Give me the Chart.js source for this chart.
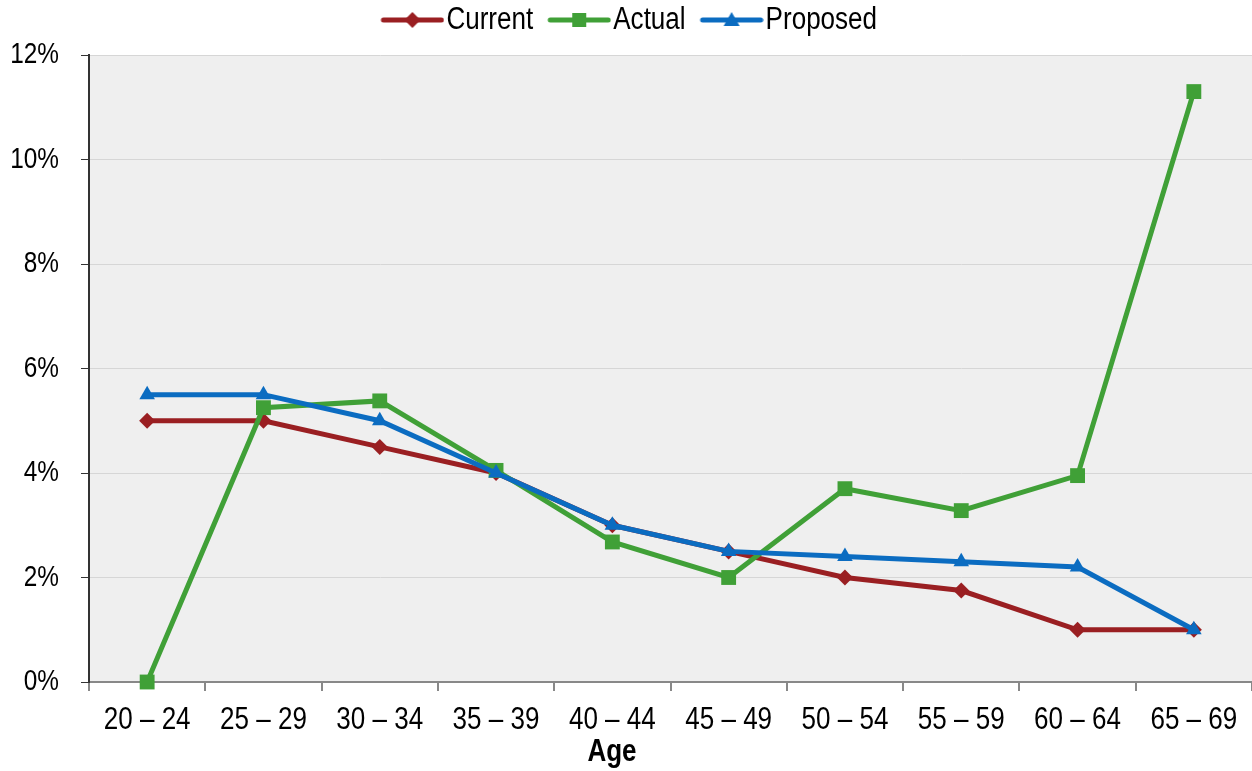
<!DOCTYPE html>
<html>
<head>
<meta charset="utf-8">
<script src="https://cdn.jsdelivr.net/npm/chart.js"></script>
<style>
	body { margin: 0; background: #fff; }
	#wrap { width: 1252px; height: 771px; position: relative; }
</style>
</head>
<body>
<div id="wrap"><canvas id="ageChart"></canvas></div>
<script>
// age bands on the x axis
var ageBands = ['20 – 24', '25 – 29', '30 – 34', '35 – 39', '40 – 44', '45 – 49', '50 – 54', '55 – 59', '60 – 64', '65 – 69'];
var xTitle = 'Age';

// rates in percent
var currentRates = [5.0, 5.0, 4.5, 4.0, 3.0, 2.5, 2.0, 1.75, 1.0, 1.0];
var actualRates = [0.0, 5.25, 5.38, 4.05, 2.68, 2.0, 3.7, 3.28, 3.95, 11.3];
var proposedRates = [5.5, 5.5, 5.0, 4.0, 3.0, 2.5, 2.4, 2.3, 2.2, 1.0];

var yTicks = [0, 2, 4, 6, 8, 10, 12];

// no Arial Narrow here, so squeeze Liberation Sans sideways on the canvas
var squeeze = 0.84;
var proto = CanvasRenderingContext2D.prototype;
var plainFillText = proto.fillText;
var plainMeasureText = proto.measureText;
proto.fillText = function (text, x, y) {
	this.save();
	this.translate(x, y);
	this.scale(squeeze, 1);
	plainFillText.call(this, text, 0, 0);
	this.restore();
};
proto.measureText = function (text) {
	var m = plainMeasureText.call(this, text);
	return {
		width: m.width * squeeze,
		actualBoundingBoxLeft: m.actualBoundingBoxLeft * squeeze,
		actualBoundingBoxRight: m.actualBoundingBoxRight * squeeze,
		actualBoundingBoxAscent: m.actualBoundingBoxAscent,
		actualBoundingBoxDescent: m.actualBoundingBoxDescent,
		fontBoundingBoxAscent: m.fontBoundingBoxAscent,
		fontBoundingBoxDescent: m.fontBoundingBoxDescent
	};
};

var fontFamily = '"Liberation Sans", Arial, sans-serif';
Chart.defaults.font.family = fontFamily;
Chart.defaults.color = '#000';

var red = '#9a1f22';
var green = '#40a037';
var blue = '#0b6cc1';

// line + marker picture for each legend entry (blank strip on the left)
function legendIcon(color, style) {
	var c = document.createElement('canvas');
	c.width = 83;
	c.height = 20;
	var g = c.getContext('2d');
	g.strokeStyle = color;
	g.fillStyle = color;
	g.lineWidth = 5;
	g.lineCap = 'round';
	g.beginPath();
	g.moveTo(22, 10);
	g.lineTo(80, 10);
	g.stroke();
	g.beginPath();
	if (style == 'rectRot') {
		g.moveTo(51, 2); g.lineTo(59, 10); g.lineTo(51, 18); g.lineTo(43, 10);
	} else if (style == 'rect') {
		g.rect(44, 3, 14, 14);
	} else {
		g.moveTo(51, 2); g.lineTo(59, 16); g.lineTo(43, 16);
	}
	g.closePath();
	g.fill();
	return c;
}

var plotBackground = {
	id: 'plotBackground',
	beforeDraw: function (chart) {
		var a = chart.chartArea;
		var ctx = chart.ctx;
		ctx.save();
		ctx.fillStyle = '#efefef';
		ctx.fillRect(a.left, a.top, a.right - a.left, a.bottom - a.top);
		ctx.restore();
	}
};

// a little more room under the legend
var legendRoom = {
	id: 'legendRoom',
	beforeLayout: function (chart) {
		var lg = chart.legend;
		if (lg && !lg.roomAdded) {
			var fit = lg.fit;
			lg.fit = function () {
				fit.call(this);
				this.height += 9.5;
			};
			lg.roomAdded = true;
		}
	}
};

// x axis title sits a bit left of the centre
var ageTitle = {
	id: 'ageTitle',
	afterDraw: function (chart) {
		var ctx = chart.ctx;
		ctx.save();
		ctx.font = 'bold 31px ' + fontFamily;
		ctx.fillStyle = '#000';
		ctx.textAlign = 'center';
		ctx.textBaseline = 'middle';
		ctx.fillText(xTitle, chart.width / 2 - 14, chart.height - 19);
		ctx.restore();
	}
};

var ageChart = new Chart(document.getElementById('ageChart'), {
	type: 'line',
	data: {
		labels: ageBands,
		datasets: [{
			label: 'Current',
			data: currentRates,
			borderColor: red,
			backgroundColor: red,
			borderWidth: 5,
			pointStyle: 'rectRot',
			pointRadius: 8,
			pointBorderWidth: 0,
			clip: false,
			order: 3,
			icon: legendIcon(red, 'rectRot')
		}, {
			label: 'Actual',
			data: actualRates,
			borderColor: green,
			backgroundColor: green,
			borderWidth: 5,
			pointStyle: 'rect',
			pointRadius: 10.5,
			pointBorderWidth: 0,
			clip: false,
			order: 2,
			icon: legendIcon(green, 'rect')
		}, {
			label: 'Proposed',
			data: proposedRates,
			borderColor: blue,
			backgroundColor: blue,
			borderWidth: 5,
			pointStyle: 'triangle',
			pointRadius: 9,
			pointBorderWidth: 0,
			clip: false,
			order: 1,
			icon: legendIcon(blue, 'triangle')
		}]
	},
	options: {
		responsive: true,
		maintainAspectRatio: false,
		animation: false,
		layout: { autoPadding: false, padding: { top: -4, right: 0, bottom: 0, left: 0 } },
		plugins: {
			legend: {
				position: 'top',
				labels: {
					usePointStyle: true,
					pointStyleWidth: 56,
					padding: 8.5,
					font: { size: 31 },
					generateLabels: function (chart) {
						return chart.data.datasets.map(function (ds, i) {
							return {
								text: ds.label,
								pointStyle: ds.icon,
								fillStyle: ds.borderColor,
								strokeStyle: ds.borderColor,
								lineWidth: 0,
								datasetIndex: i,
								hidden: false
							};
						});
					}
				}
			},
			tooltip: { enabled: false }
		},
		scales: {
			x: {
				offset: true,
				grid: {
					offset: true,
					drawOnChartArea: false,
					drawTicks: true,
					tickLength: 9,
					color: '#888',
					lineWidth: 2
				},
				border: { color: '#888', width: 2 },
				ticks: { font: { size: 31 }, padding: 11, maxRotation: 0, autoSkip: false },
				afterFit: function (scale) { scale.height = 89; }
			},
			y: {
				min: 0,
				max: 12,
				afterBuildTicks: function (scale) {
					scale.ticks = yTicks.map(function (v) { return { value: v }; });
				},
				grid: {
					color: '#d6d6d6',
					lineWidth: 1,
					tickColor: '#333',
					tickLength: 8
				},
				border: { color: '#333', width: 2 },
				ticks: {
					font: { size: 29 },
					padding: 22,
					callback: function (v) { return v + '%'; }
				},
				afterFit: function (scale) { scale.width = 89; }
			}
		}
	},
	plugins: [plotBackground, legendRoom, ageTitle]
});
</script>
</body>
</html>
